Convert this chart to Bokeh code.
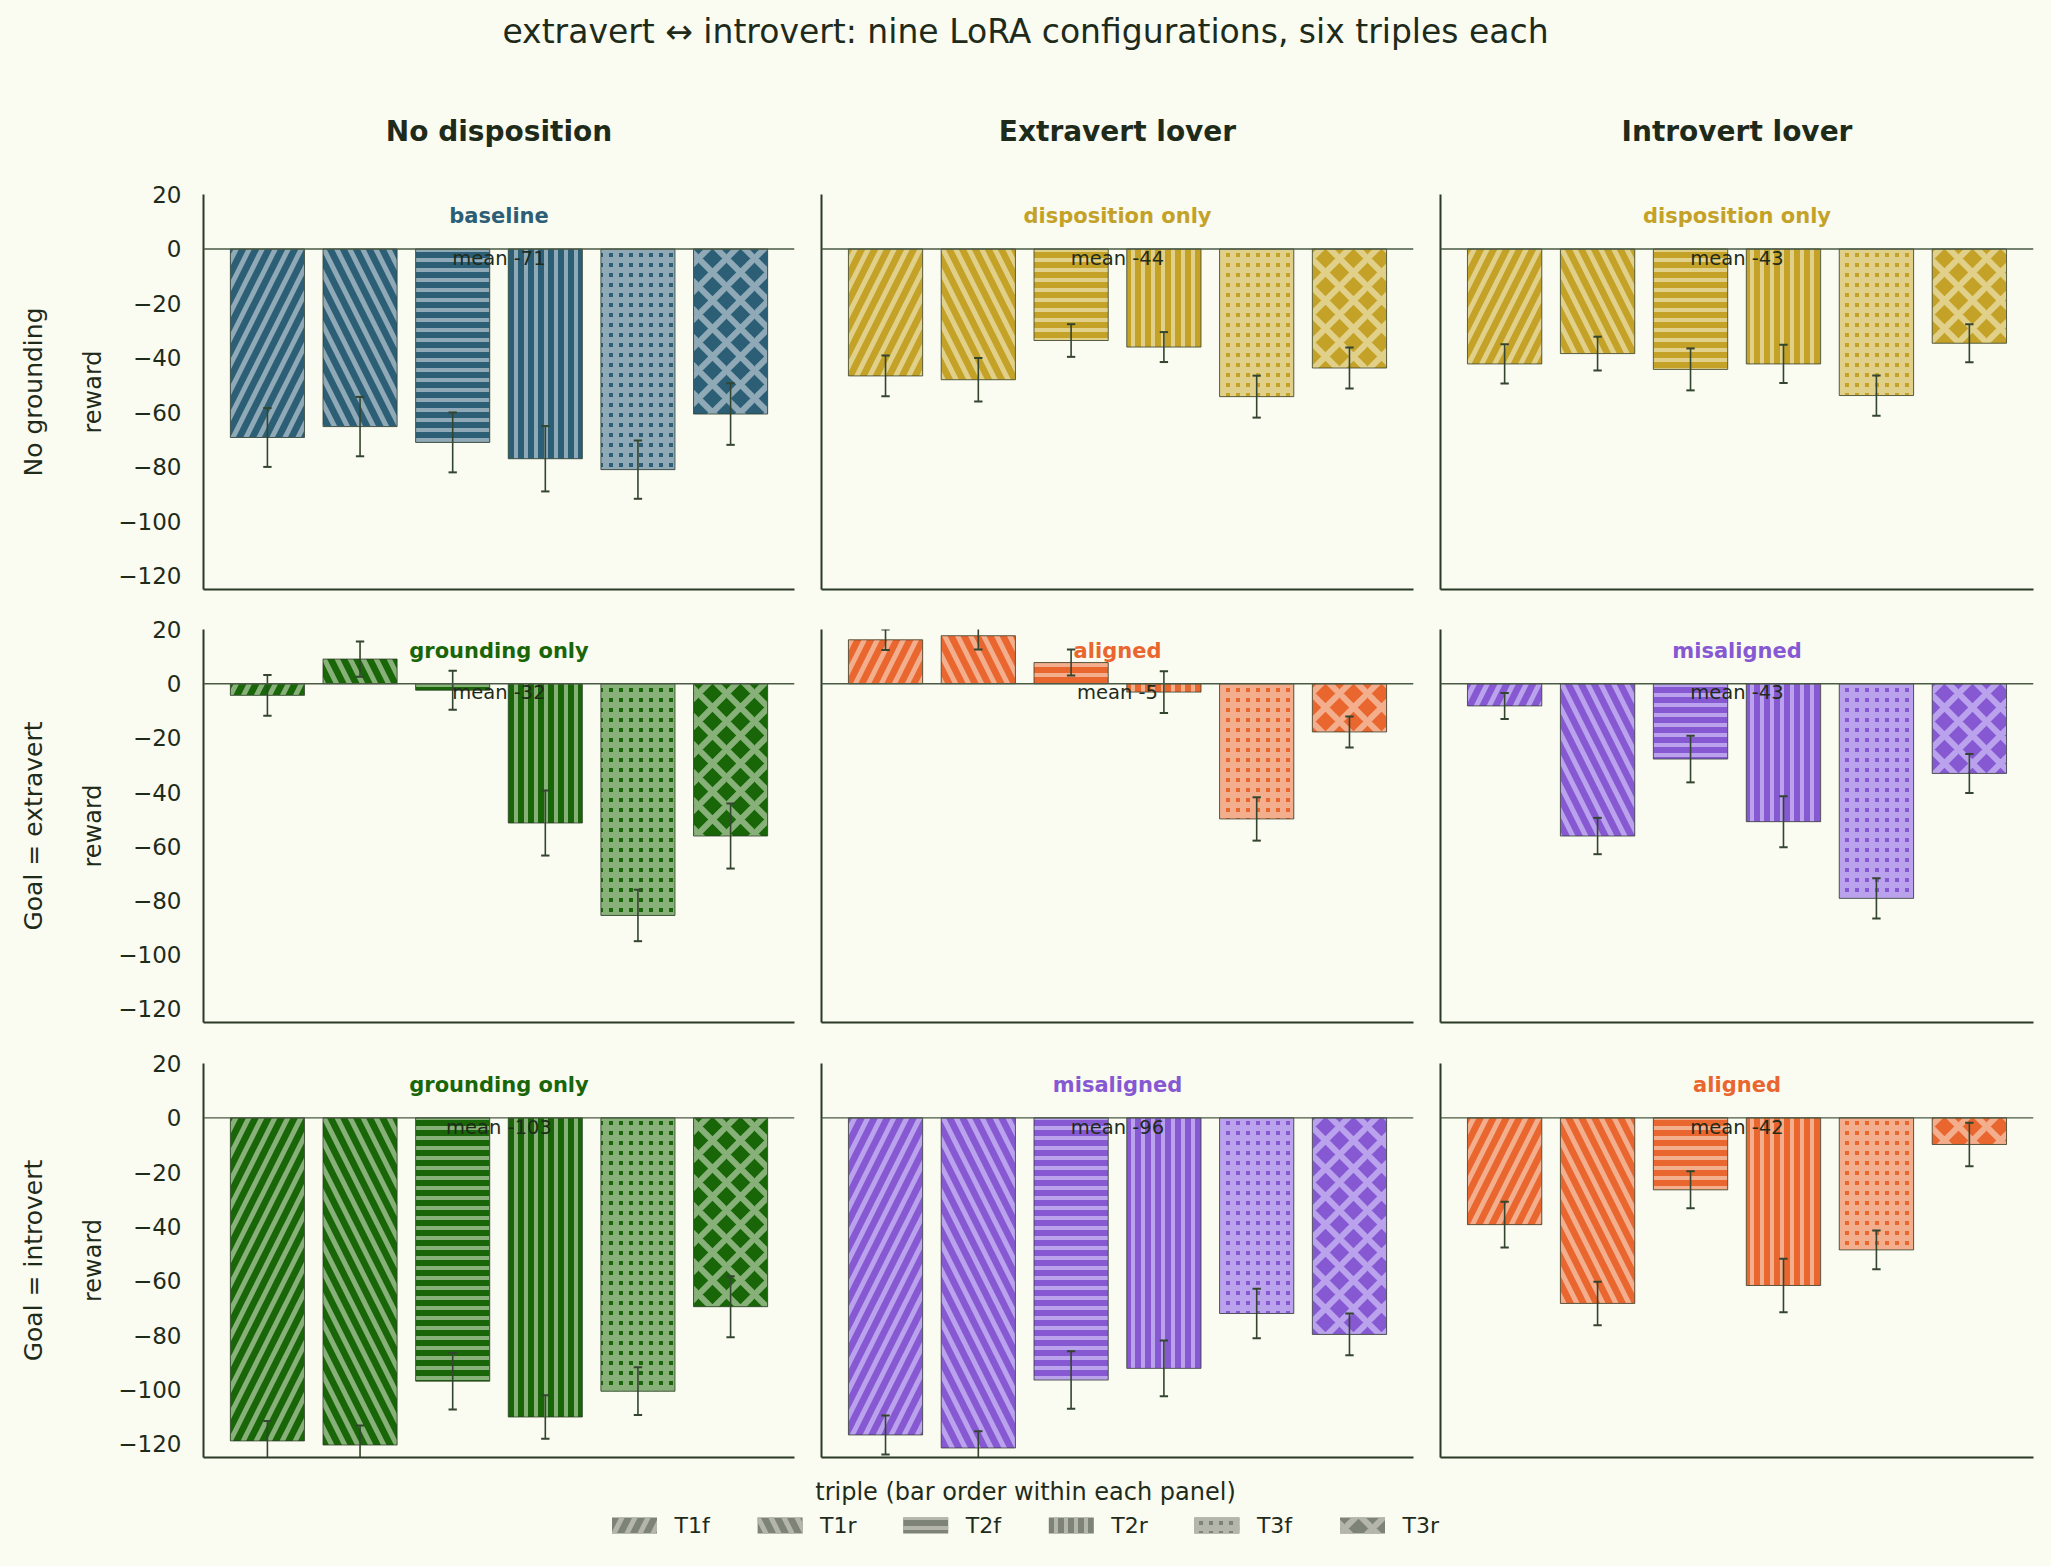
import math
from bokeh.plotting import figure
from bokeh.layouts import column, row
from bokeh.models import Range1d, Span, FixedTicker
from bokeh.core.properties import value
from bokeh.embed import file_html
from bokeh.resources import INLINE

FONT = "DejaVu Sans"
BG = "#fafbf1"
INK = "#1f2b1a"
SPINE = "#2b3a27"
ERR = "#33452f"

# ---- data -------------------------------------------------------------
triples = ["T1f", "T1r", "T2f", "T2r", "T3f", "T3r"]
col_titles = ["No disposition", "Extravert lover", "Introvert lover"]
row_titles = ["No grounding", "Goal = extravert", "Goal = introvert"]
panel_tags = [
    ["baseline", "disposition only", "disposition only"],
    ["grounding only", "aligned", "misaligned"],
    ["grounding only", "misaligned", "aligned"],
]
ytick_values = [20, 0, -20, -40, -60, -80, -100, -120]
ytick_labels = ["20", "0", "\u221220", "\u221240", "\u221260", "\u221280", "\u2212100", "\u2212120"]

# mean reward per triple and its error half-width
reward_nogr_nodisp = [-69.2, -65.2, -71.0, -77.0, -81.0, -60.6]
err_nogr_nodisp = [10.8, 10.9, 11.0, 12.0, 10.7, 11.3]
reward_nogr_extra = [-46.6, -48.0, -33.6, -36.0, -54.2, -43.7]
err_nogr_extra = [7.5, 8.0, 6.0, 5.5, 7.7, 7.5]
reward_nogr_intro = [-42.2, -38.4, -44.2, -42.2, -53.8, -34.6]
err_nogr_intro = [7.2, 6.2, 7.7, 7.0, 7.4, 7.0]

reward_gext_nodisp = [-4.3, 9.1, -2.4, -51.4, -85.5, -56.2]
err_gext_nodisp = [7.5, 6.5, 7.2, 12.0, 9.5, 12.0]
reward_gext_extra = [16.2, 17.7, 7.8, -3.1, -49.9, -17.8]
err_gext_extra = [3.8, 5.1, 4.8, 7.7, 8.0, 5.7]
reward_gext_intro = [-8.2, -56.2, -27.8, -50.9, -79.2, -33.1]
err_gext_intro = [4.8, 6.7, 8.6, 9.4, 7.4, 7.2]

reward_gint_nodisp = [-118.9, -120.4, -96.9, -110.1, -100.6, -69.5]
err_gint_nodisp = [7.3, 7.2, 10.4, 8.0, 8.8, 11.2]
reward_gint_extra = [-116.7, -121.5, -96.5, -92.2, -72.0, -79.7]
err_gint_extra = [7.2, 6.2, 10.6, 10.3, 9.1, 7.7]
reward_gint_intro = [-39.3, -68.3, -26.5, -61.7, -48.6, -9.8]
err_gint_intro = [8.4, 8.0, 6.8, 9.8, 7.1, 8.0]

reward_grid = [
    [reward_nogr_nodisp, reward_nogr_extra, reward_nogr_intro],
    [reward_gext_nodisp, reward_gext_extra, reward_gext_intro],
    [reward_gint_nodisp, reward_gint_extra, reward_gint_intro],
]
err_grid = [
    [err_nogr_nodisp, err_nogr_extra, err_nogr_intro],
    [err_gext_nodisp, err_gext_extra, err_gext_intro],
    [err_gint_nodisp, err_gint_extra, err_gint_intro],
]

# ---- styling ----------------------------------------------------------
tag_colors = {
    "baseline": ("#2c5f76", "#90a9b7"),
    "disposition only": ("#c4a228", "#e1d08a"),
    "grounding only": ("#186608", "#88b179"),
    "aligned": ("#e9662e", "#f2ae8d"),
    "misaligned": ("#8659d3", "#bba2ec"),
}
hatch_styles = {
    "T1f": dict(hatch_pattern="right_diagonal_line", hatch_scale=26, hatch_weight=5),
    "T1r": dict(hatch_pattern="left_diagonal_line", hatch_scale=26, hatch_weight=5),
    "T2f": dict(hatch_pattern="horizontal_line", hatch_scale=10, hatch_weight=4),
    "T2r": dict(hatch_pattern="vertical_line", hatch_scale=10, hatch_weight=4),
    "T3f": dict(hatch_pattern="cross", hatch_scale=10, hatch_weight=6),
    "T3r": dict(hatch_pattern="diagonal_cross", hatch_scale=28, hatch_weight=6),
}

frame_w = [591, 592, 593]
frame_h = [395, 393, 394]
border_l = [93, 14, 14]
border_r = [13, 13, 18]
border_t = [20, 20, 21]
border_b = [20, 20, 15]

BAR_W = 0.8
CAP = 0.045


def blank(width, height, xr, yr):
    p = figure(width=width, height=height, x_range=xr, y_range=yr,
               x_axis_type=None, y_axis_type=None, title=None,
               output_backend="svg", toolbar_location=None, min_border=0)
    p.outline_line_color = None
    p.background_fill_color = BG
    p.border_fill_color = BG
    p.xgrid.visible = False
    p.ygrid.visible = False
    return p


def panel(r, c):
    vals = reward_grid[r][c]
    errs = err_grid[r][c]
    tag = panel_tags[r][c]
    dark, light = tag_colors[tag]
    xs = list(range(len(triples)))

    p = figure(frame_width=frame_w[c], frame_height=frame_h[r],
               x_range=Range1d(-0.69, len(triples) - 1 + 0.69),
               y_range=Range1d(-125, 20), title=None,
               output_backend="svg", toolbar_location=None,
               min_border_left=border_l[c], min_border_right=border_r[c],
               min_border_top=border_t[r], min_border_bottom=border_b[r])
    p.outline_line_color = None
    p.background_fill_color = BG
    p.border_fill_color = BG
    p.xgrid.visible = False
    p.ygrid.visible = False

    for ax in (p.xaxis[0], p.yaxis[0]):
        ax.axis_line_color = SPINE
        ax.axis_line_width = 2
        ax.major_tick_line_color = None
        ax.minor_tick_line_color = None
        ax.major_tick_out = 0
        ax.major_tick_in = 0
        ax.minor_tick_out = 0
        ax.minor_tick_in = 0
    p.xaxis.ticker = FixedTicker(ticks=[])
    p.xaxis.major_label_text_font_size = "0px"
    if c == 0:
        p.yaxis.ticker = FixedTicker(ticks=ytick_values)
        p.yaxis.major_label_overrides = {v: s for v, s in zip(ytick_values, ytick_labels)}
        p.yaxis.major_label_text_font = FONT
        p.yaxis.major_label_text_font_size = "23px"
        p.yaxis.major_label_text_color = INK
        p.yaxis.major_label_standoff = 22
    else:
        p.yaxis.ticker = FixedTicker(ticks=[])
        p.yaxis.major_label_text_font_size = "0px"

    p.add_layout(Span(location=0, dimension="width", line_color="#4a5a44", line_width=1.4))

    for i, t in enumerate(triples):
        p.vbar(x=[xs[i]], top=[vals[i]], bottom=0, width=BAR_W,
               fill_color=dark, hatch_color=light, hatch_alpha=1.0,
               line_color=SPINE, line_width=1, line_alpha=0.75,
               **hatch_styles[t])

    lo = [v - e for v, e in zip(vals, errs)]
    hi = [v + e for v, e in zip(vals, errs)]
    p.segment(x0=xs, y0=lo, x1=xs, y1=hi, line_color=ERR, line_width=1.6)
    p.segment(x0=[x - CAP for x in xs], y0=lo, x1=[x + CAP for x in xs], y1=lo,
              line_color=ERR, line_width=2)
    p.segment(x0=[x - CAP for x in xs], y0=hi, x1=[x + CAP for x in xs], y1=hi,
              line_color=ERR, line_width=2)

    mid = (len(triples) - 1) / 2
    p.text(x=[mid], y=[12], text=[tag], text_align="center", text_baseline="middle",
           text_font=value(FONT), text_font_style="bold", text_font_size="21px",
           text_color=dark)
    mean = sum(vals) / len(vals)
    p.text(x=[mid], y=[-3.4], text=[f"mean {round(mean)}"], text_align="center",
           text_baseline="middle", text_font=value(FONT), text_font_size="19.5px",
           text_color=INK)
    return p


# ---- header: suptitle and column titles --------------------------------
header = blank(2051, 174, Range1d(0, 2051), Range1d(174, 0))
header.text(x=[1025], y=[31],
            text=["extravert \u2194 introvert: nine LoRA configurations, six triples each"],
            text_align="center", text_baseline="middle", text_font=value(FONT),
            text_font_size="33px", text_color=INK)
header.text(x=[498.5, 1117, 1736.5], y=[131, 131, 131], text=col_titles,
            text_align="center", text_baseline="middle", text_font=value(FONT),
            text_font_style="bold", text_font_size="28px", text_color=INK)

# ---- left gutter: row titles and y-axis label ---------------------------
gutter = blank(110, 1298, Range1d(0, 110), Range1d(1472, 174))
row_centers = [391.5, 825.5, 1260]
gutter.text(x=[33] * 3, y=row_centers, text=row_titles, angle=math.pi / 2,
            text_align="center", text_baseline="middle", text_font=value(FONT),
            text_font_size="25px", text_color=INK)
gutter.text(x=[92] * 3, y=row_centers, text=["reward"] * 3, angle=math.pi / 2,
            text_align="center", text_baseline="middle", text_font=value(FONT),
            text_font_size="24px", text_color=INK)

grid_rows = [row(*[panel(r, c) for c in range(3)], spacing=0) for r in range(3)]
grid = column(*grid_rows, spacing=0)

# ---- bottom legend -----------------------------------------------------
legend = blank(2051, 94, Range1d(0, 2051), Range1d(1566, 1472))
legend.text(x=[1025], y=[1491], text=["triple (bar order within each panel)"],
            text_align="center", text_baseline="middle", text_font=value(FONT),
            text_font_size="24px", text_color=INK)
for i, t in enumerate(triples):
    cx = 634 + i * 145.6
    legend.rect(x=[cx], y=[1525], width=45, height=16, fill_color="#7e8377",
                hatch_color="#b4b6ac", line_color=None, **hatch_styles[t])
    legend.text(x=[cx + 40], y=[1525], text=[t], text_align="left",
                text_baseline="middle", text_font=value(FONT),
                text_font_size="22px", text_color=INK)

page = column(header, row(gutter, grid, spacing=0), legend, spacing=0)

html = file_html(page, INLINE, title="extravert introvert LoRA rewards")
html = html.replace("<body>", f'<body style="margin:0;background:{BG};">')
open("out.html", "w").write(html)
